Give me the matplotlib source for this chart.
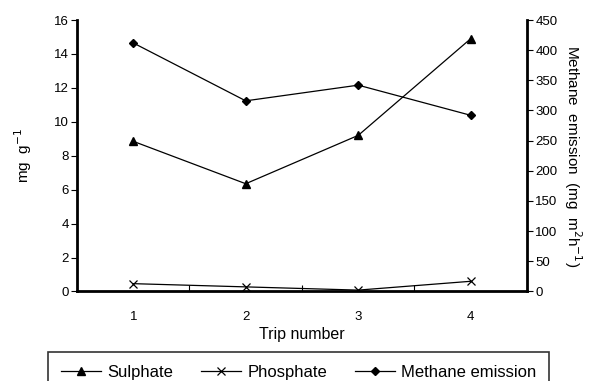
import matplotlib
matplotlib.use("Agg")
import matplotlib.pyplot as plt

trips = [1, 2, 3, 4]
trip_labels = ["1", "2", "3", "4"]
sulphate = [8.85, 6.35, 9.2, 14.9]
phosphate = [0.46, 0.27, 0.08, 0.6]
methane = [412, 316, 342, 292]

plt.rcParams['font.family'] = ['Liberation Sans', 'DejaVu Sans']

fig = plt.figure(figsize=(5.89, 3.81), dpi=100)
ax = fig.add_axes([0.1307, 0.235, 0.764, 0.7125])
ax2 = ax.twinx()

l1, = ax.plot(trips, sulphate, color='black', lw=0.9, marker='^', ms=5.5, label='Sulphate')
l2, = ax.plot(trips, phosphate, color='black', lw=0.9, marker='x', ms=6, mew=0.9, label='Phosphate')
l3, = ax2.plot(trips, methane, color='black', lw=0.9, marker='D', ms=4, label='Methane emission')

ax.set_xlim(0.5, 4.5)
ax.set_ylim(0, 16)
ax2.set_ylim(0, 450)
ax.set_yticks(range(0, 17, 2))
ax2.set_yticks(range(0, 451, 50))
ax.set_xticks(trips)
ax.set_xticklabels(trip_labels)
ax.set_xticks([1.5, 2.5, 3.5], minor=True)
ax.tick_params(axis='x', which='major', length=0, pad=14, labelsize=9.5)
ax.tick_params(axis='x', which='minor', length=4, width=0.8, direction='in')
ax.tick_params(axis='y', length=4, width=0.8, labelsize=9.5, pad=2)
ax2.tick_params(axis='y', length=4, width=0.8, labelsize=9.5, pad=2)

for a in (ax, ax2):
    a.spines['top'].set_visible(False)
    a.patch.set_visible(False)
for s in ['left', 'bottom']:
    ax.spines[s].set_linewidth(2)
ax.spines['right'].set_visible(False)
ax2.spines['right'].set_linewidth(2)
ax2.spines['left'].set_visible(False)
ax2.spines['bottom'].set_visible(False)

ax.set_xlabel('Trip number', fontsize=11.5, labelpad=3)
ax.set_ylabel('mg  g$^{-1}$', fontsize=11, labelpad=14)
ax2.set_ylabel('Methane  emission  (mg  m$^{2}$h$^{-1}$)', fontsize=11, rotation=270, labelpad=19)

leg = fig.legend(handles=[l1, l2, l3], loc='upper center', bbox_to_anchor=(0.507, 0.076),
                 ncol=3, frameon=True, fancybox=False, edgecolor='black', fontsize=12,
                 handlelength=2.4, columnspacing=1.65, borderpad=0.75, handletextpad=0.4,
                 borderaxespad=0)
leg.get_frame().set_linewidth(1.2)

fig.savefig('out.png', dpi=100)
